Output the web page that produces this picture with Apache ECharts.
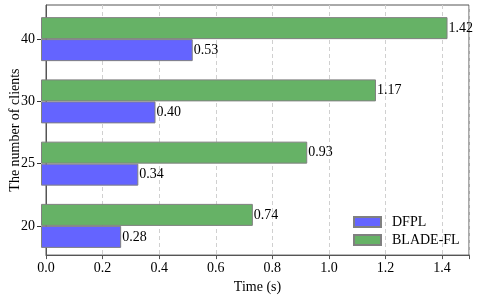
<!DOCTYPE html>
<html><head><meta charset="utf-8">
<script src="https://cdn.jsdelivr.net/npm/echarts@6/dist/echarts.min.js"></script>
<style>html,body{margin:0;padding:0;background:#fff}#c{width:478px;height:299px}</style>
</head><body><div id="c"></div>
<script>
var categories = ['20', '25', '30', '40'];
var dfpl = [0.28, 0.34, 0.40, 0.53];
var blade = [0.74, 0.93, 1.17, 1.42];
var seriesNames = ['DFPL', 'BLADE-FL'];
var xTicks = [0, 0.2, 0.4, 0.6, 0.8, 1.0, 1.2, 1.4];

var font = 'Liberation Serif';
var chart = echarts.init(document.getElementById('c'));
var xMax = 1.495;
function lbl(){ return {show:true, position:'right', distance:1, color:'#000', fontFamily:font, fontSize:14,
  formatter:function(p){return p.value.toFixed(2);} }; }
chart.setOption({
  animation:false,
  textStyle:{fontFamily:font},
  grid:[
    {left:41, right:9, top:5, bottom:41, show:true, borderColor:'#555', borderWidth:1, containLabel:false},
    {left:41, right:9, top:8, height:249, containLabel:false}
  ],
  legend:{
    data:seriesNames, orient:'vertical', left:353, top:215, padding:0, itemWidth:27, itemHeight:10, itemGap:4,
    icon:'rect',
    textStyle:{fontFamily:font, fontSize:14, color:'#000', padding:[0,0,0,6]}
  },
  xAxis:[
    {gridIndex:0, type:'value', min:0, max:xMax, interval:0.2,
     axisLine:{show:true, lineStyle:{color:'#555'}},
     axisTick:{show:true, length:4, lineStyle:{color:'#555'}},
     axisLabel:{color:'#000', fontSize:14, fontFamily:font, margin:6,
       formatter:function(v){ return xTicks.some(function(t){return Math.abs(t-v)<1e-9;}) ? v.toFixed(1) : ''; }},
     splitLine:{show:true, lineStyle:{color:'#d0d0d0', type:[4,3]}},
     name:'Time (s)', nameLocation:'middle', nameGap:23,
     nameTextStyle:{color:'#000', fontSize:14, fontFamily:font}},
    {gridIndex:1, type:'value', min:0, max:xMax, show:false, splitLine:{show:false}}
  ],
  yAxis:[
    {gridIndex:0, type:'value', min:0, max:1, axisLabel:{show:false}, axisTick:{show:false}, splitLine:{show:false},
     axisLine:{show:true, lineStyle:{color:'#555'}},
     name:'The number of clients', nameLocation:'middle', nameGap:24,
     nameTextStyle:{color:'#000', fontSize:14, fontFamily:font}},
    {gridIndex:1, type:'category', data:categories,
     axisLine:{show:false},
     axisTick:{show:true, alignWithLabel:true, length:4, lineStyle:{color:'#333'}},
     axisLabel:{color:'#000', fontSize:14, fontFamily:font, margin:6},
     splitLine:{show:false}}
  ],
  series:[
    {name:seriesNames[1], type:'bar', xAxisIndex:1, yAxisIndex:1, data:blade, barWidth:22, barGap:'0%',
     itemStyle:{color:'#66B266', borderColor:'#808080', borderWidth:1}, label:lbl()},
    {name:seriesNames[0], type:'bar', xAxisIndex:1, yAxisIndex:1, data:dfpl, barWidth:22, barGap:'0%',
     itemStyle:{color:'#6464FF', borderColor:'#808080', borderWidth:1}, label:lbl()}
  ]
});
</script></body></html>
